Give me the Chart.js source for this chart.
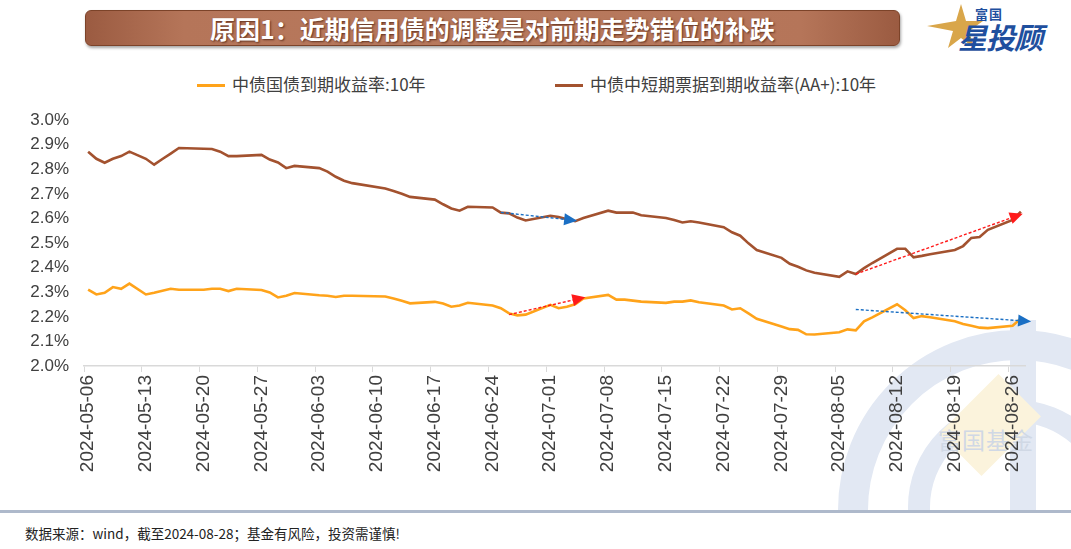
<!DOCTYPE html>
<html lang="zh-CN">
<head>
<meta charset="utf-8">
<title>原因1：近期信用债的调整是对前期走势错位的补跌</title>
<script src="https://cdn.jsdelivr.net/npm/chart.js@4.4.1/dist/chart.umd.min.js"></script>
<style>
  html, body { margin: 0; padding: 0; background: #fff; }
  body {
    width: 1071px; height: 549px; position: relative; overflow: hidden;
    font-family: "Noto Sans CJK SC", "Liberation Sans", sans-serif;
  }
  .banner {
    position: absolute; left: 85px; top: 10px; width: 813px; height: 34px;
    border: 1px solid #7c4329; border-radius: 6px;
    background: linear-gradient(to right, #9b5b41 0%, #b57559 12%, #b87a5e 50%, #b57559 88%, #9b5b41 100%);
    box-shadow: 1px 2px 3px rgba(0,0,0,0.35);
    color: #fff; font-weight: bold; font-size: 25px; line-height: 34px; text-align: center;
    text-shadow: 1px 1px 2px rgba(60,20,5,0.7);
  }
  .logo { position: absolute; left: 925px; top: 2px; width: 140px; height: 52px; }
  .logo svg { position: absolute; left: 0; top: 0; }
  .logo .small { position: absolute; left: 50px; top: 2px; font-size: 13px; font-weight: bold; color: #1f4f9e; letter-spacing: 1px; }
  .logo .big { position: absolute; left: 33px; top: 13px; font-size: 29px; font-weight: bold; font-style: italic; color: #1f4f9e; letter-spacing: -1px; }
  .legend { position: absolute; left: 0; top: 72px; width: 1071px; height: 24px; font-size: 17px; color: #404040; }
  .legend span { position: absolute; top: 0; white-space: nowrap; line-height: 24px; }
  .legend i { display: inline-block; width: 28px; height: 3px; vertical-align: middle; margin-right: 7px; position: relative; top: -1px; }
  .mark { position: absolute; left: 820px; top: 300px; width: 251px; height: 210px; overflow: hidden; }
  .mark .ring { position: absolute; border-radius: 50%; border-style: solid; border-color: #e2e8f3; }
  .mark .bar { position: absolute; background: #e2e8f3; }
  .mark .dia { position: absolute; left: 140px; top: 95px; width: 60px; height: 60px; background: #fbf3dc; transform: rotate(45deg) scaleY(1.4); }
  .mark .txt { position: absolute; left: 118px; top: 122px; font-size: 23px; color: #d0d8e5; letter-spacing: 1px; }
  #chart { position: absolute; left: 0; top: 95px; }
  .rule { position: absolute; left: 0; top: 510px; width: 1071px; height: 3px; background: #aeb9cb; }
  .source { position: absolute; left: 25px; top: 523px; font-size: 13.5px; color: #222; }
</style>
</head>
<body>
<div class="mark">
  <div class="ring" style="left:18px; top:30px; width:300px; height:300px; border-width:30px;"></div>
  <div class="ring" style="left:88px; top:100px; width:170px; height:170px; border-width:22px;"></div>
  <div class="bar" style="left:190px; top:20px; width:26px; height:190px;"></div>
  <div class="dia"></div>
  <div class="txt">富国基金</div>
</div>

<div class="banner">原因1：近期信用债的调整是对前期走势错位的补跌</div>

<div class="logo">
  <svg width="60" height="52" viewBox="0 0 60 52">
    <polygon points="36,2 41,19 58,19 44,29 49,46 36,36 23,46 28,29 2,24 31,19" fill="#d9a64a"/>
  </svg>
  <div class="small">富国</div>
  <div class="big">星投顾</div>
</div>

<div class="legend" id="legend"></div>

<canvas id="chart" width="1071" height="390"></canvas>

<div class="rule"></div>
<div class="source">数据来源：wind，截至2024-08-28；基金有风险，投资需谨慎!</div>

<script>
// trading days (2024), May 11 was a make-up working day, June 10 a holiday
const tradeDates = [
  '05-06','05-07','05-08','05-09','05-10','05-11','05-13','05-14','05-15','05-16','05-17',
  '05-20','05-21','05-22','05-23','05-24','05-27','05-28','05-29','05-30','05-31',
  '06-03','06-04','06-05','06-06','06-07','06-11','06-12','06-13','06-14',
  '06-17','06-18','06-19','06-20','06-21','06-24','06-25','06-26','06-27','06-28',
  '07-01','07-02','07-03','07-04','07-05','07-08','07-09','07-10','07-11','07-12',
  '07-15','07-16','07-17','07-18','07-19','07-22','07-23','07-24','07-25','07-26',
  '07-29','07-30','07-31','08-01','08-02','08-05','08-06','08-07','08-08','08-09',
  '08-12','08-13','08-14','08-15','08-16','08-19','08-20','08-21','08-22','08-23',
  '08-26','08-27'
];

const govLabel = '中债国债到期收益率:10年';
const govYield = [
  2.311, 2.291, 2.298, 2.321, 2.314, 2.335, 2.291, 2.298, 2.306, 2.314, 2.310,
  2.310, 2.314, 2.314, 2.305, 2.314, 2.309, 2.299, 2.279, 2.286, 2.297,
  2.288, 2.286, 2.281, 2.286, 2.286, 2.283, 2.275, 2.265, 2.255,
  2.261, 2.254, 2.241, 2.246, 2.257, 2.246, 2.235, 2.214, 2.206, 2.209,
  2.249, 2.235, 2.241, 2.251, 2.275, 2.289, 2.270, 2.270, 2.266, 2.262,
  2.257, 2.262, 2.262, 2.267, 2.259, 2.246, 2.230, 2.235, 2.214, 2.192,
  2.161, 2.150, 2.147, 2.129, 2.128, 2.137, 2.149, 2.145, 2.182, 2.198,
  2.251, 2.227, 2.195, 2.203, 2.198, 2.182, 2.171, 2.164, 2.156, 2.154,
  2.164, 2.193
];

const cpLabel = '中债中短期票据到期收益率(AA+):10年';
const cpYield = [
  2.872, 2.843, 2.827, 2.843, 2.854, 2.872, 2.843, 2.819, 2.842, 2.864, 2.887,
  2.884, 2.883, 2.872, 2.854, 2.854, 2.859, 2.840, 2.828, 2.805, 2.814,
  2.805, 2.791, 2.770, 2.754, 2.744, 2.722, 2.712, 2.701, 2.688,
  2.677, 2.658, 2.641, 2.632, 2.648, 2.645, 2.624, 2.621, 2.604, 2.592,
  2.611, 2.606, 2.597, 2.589, 2.602, 2.632, 2.624, 2.624, 2.624, 2.613,
  2.602, 2.594, 2.584, 2.589, 2.584, 2.565, 2.544, 2.530, 2.499, 2.472,
  2.440, 2.416, 2.404, 2.389, 2.379, 2.363, 2.385, 2.374, 2.398, 2.419,
  2.477, 2.477, 2.442, 2.448, 2.455, 2.472, 2.488, 2.521, 2.525, 2.554,
  2.594, 2.628
];

// annotation arrows: [date, value] from -> to
const arrowCpFlat  = [['06-25', 2.625], ['07-04', 2.592]];
const arrowGovUp   = [['06-26', 2.209], ['07-05', 2.278]];
const arrowCpUp    = [['08-07', 2.374], ['08-27', 2.617]];
const arrowGovDown = [['08-07', 2.230], ['08-28', 2.182]];

const yTicks = { min: 2.0, max: 3.0, step: 0.1 };
const firstDay = new Date(2024, 4, 6);
const lastIdx = 113; // 2024-08-27

const pad = n => String(n).padStart(2, '0');
function dayIndex(md) {
  const [m, d] = md.split('-').map(Number);
  return Math.round((new Date(2024, m - 1, d) - firstDay) / 86400000);
}
function dateLabel(idx) {
  const d = new Date(2024, 4, 6 + Math.round(idx));
  return d.getFullYear() + '-' + pad(d.getMonth() + 1) + '-' + pad(d.getDate());
}
// one tick per week, on the left edge of each Monday
const weekTicks = [];
for (let i = 0; i <= lastIdx; i += 7) weekTicks.push(i - 0.5);

const toPoints = vals => tradeDates.map((d, i) => ({ x: dayIndex(d), y: vals[i] }));
const arrowPoints = a => a.map(([d, v]) => ({ x: dayIndex(d), y: v }));

const BLUE = '#1a6fc4', RED = '#ff1a1a';
const series = [
  { label: govLabel, data: toPoints(govYield), borderColor: '#ffa31a', borderWidth: 2.6, order: 1 },
  { label: cpLabel, data: toPoints(cpYield), borderColor: '#a3522f', borderWidth: 2.6, order: 1 }
];
const arrows = [
  [arrowCpFlat, BLUE], [arrowGovUp, RED], [arrowCpUp, RED], [arrowGovDown, BLUE]
].map(([a, c]) => ({
  label: '', arrow: true, data: arrowPoints(a), borderColor: c, borderWidth: 1.4,
  borderDash: [3, 2], clip: false, order: 0
}));

const arrowHeads = {
  id: 'arrowHeads',
  afterDatasetsDraw(chart) {
    const ctx = chart.ctx;
    chart.data.datasets.forEach((ds, i) => {
      if (!ds.arrow) return;
      const pts = chart.getDatasetMeta(i).data;
      const a = pts[pts.length - 2], b = pts[pts.length - 1];
      ctx.save();
      ctx.translate(b.x, b.y);
      ctx.rotate(Math.atan2(b.y - a.y, b.x - a.x));
      ctx.beginPath();
      ctx.moveTo(2, 0);
      ctx.lineTo(-11, -6);
      ctx.lineTo(-11, 6);
      ctx.closePath();
      ctx.fillStyle = ds.borderColor;
      ctx.fill();
      ctx.restore();
    });
  }
};

const chart = new Chart(document.getElementById('chart'), {
  type: 'line',
  data: { datasets: [...series, ...arrows] },
  options: {
    responsive: false,
    animation: false,
    layout: { padding: { top: 20, right: 46, left: 0, bottom: 0 } },
    elements: { point: { radius: 0 }, line: { tension: 0 } },
    plugins: { legend: { display: false }, tooltip: { enabled: false } },
    scales: {
      x: {
        type: 'linear',
        min: -0.5,
        max: lastIdx + 0.5,
        afterBuildTicks: s => { s.ticks = weekTicks.map(v => ({ value: v })); },
        afterFit: s => { s.height = 119; },
        grid: { drawOnChartArea: false, color: '#d9d9d9', tickLength: 6 },
        border: { color: '#d9d9d9', width: 1.5 },
        ticks: {
          autoSkip: false, minRotation: 90, maxRotation: 90, labelOffset: 4, padding: 3,
          color: '#404040', font: { family: 'Liberation Sans', size: 19 },
          callback: v => dateLabel(v + 0.5)
        }
      },
      y: {
        min: yTicks.min,
        max: yTicks.max,
        afterFit: s => { s.width = 84; },
        grid: { display: false, drawTicks: false },
        border: { display: false },
        ticks: {
          stepSize: yTicks.step, padding: 15, color: '#404040',
          font: { family: 'Liberation Sans', size: 17 },
          callback: v => v.toFixed(1) + '%'
        }
      }
    }
  },
  plugins: [arrowHeads]
});

// html legend built from the series
const legendLeft = [197, 555];
const legendEl = document.getElementById('legend');
series.forEach((s, i) => {
  const item = document.createElement('span');
  item.style.left = legendLeft[i] + 'px';
  item.innerHTML = '<i style="background:' + s.borderColor + '"></i>';
  item.appendChild(document.createTextNode(s.label));
  legendEl.appendChild(item);
});
</script>
</body>
</html>
